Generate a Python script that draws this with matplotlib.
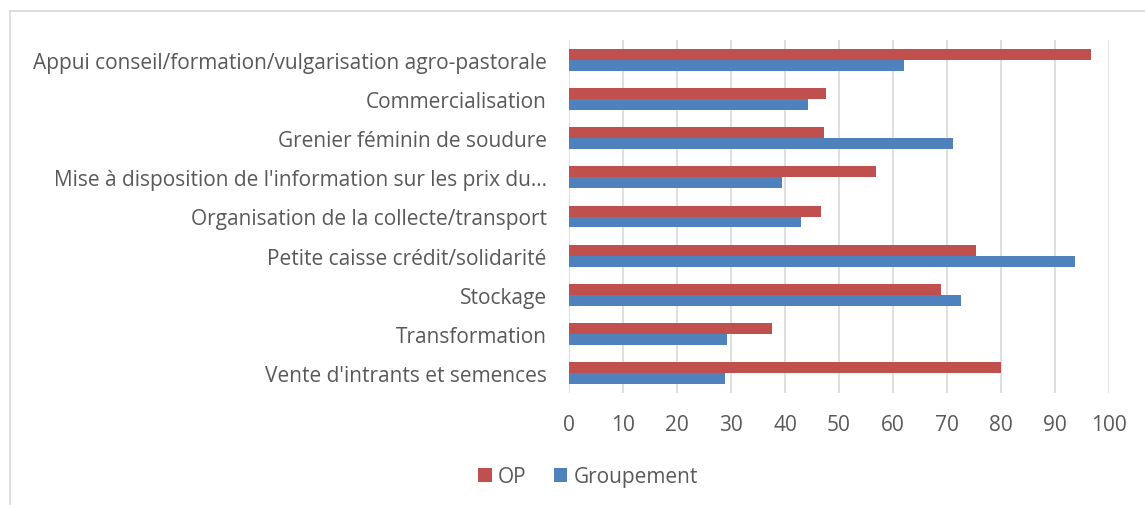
import matplotlib.pyplot as plt
from matplotlib.lines import Line2D
import numpy as np

# Data (top to bottom as shown)
categories = [
    "Appui conseil/formation/vulgarisation agro-pastorale",
    "Commercialisation",
    "Grenier féminin de soudure",
    "Mise à disposition de l'information sur les prix du…",
    "Organisation de la collecte/transport",
    "Petite caisse crédit/solidarité",
    "Stockage",
    "Transformation",
    "Vente d'intrants et semences",
]
op = [96.6, 47.5, 47.3, 56.9, 46.6, 75.4, 68.9, 37.5, 80.0]
groupement = [62.0, 44.2, 71.2, 39.4, 42.9, 93.7, 72.5, 29.2, 28.8]
xticks = [0, 10, 20, 30, 40, 50, 60, 70, 80, 90, 100]

plt.rcParams['font.family'] = ['Open Sans', 'DejaVu Sans']
text_color = '#595959'
red = '#c0504d'
blue = '#4f81bd'

W, H = 1145, 506
fig = plt.figure(figsize=(W / 100, H / 100), dpi=100)
# plot area in pixels: left 569, right 1109, top 41, bottom 394
ax = fig.add_axes([569 / W, 1 - 394 / H, (1109 - 569) / W, (394 - 41) / H])

n = len(categories)
y = np.arange(n)[::-1]
h = 0.28
ax.barh(y + h / 2, op, height=h, color=red, label='OP', zorder=3)
ax.barh(y - h / 2, groupement, height=h, color=blue, label='Groupement', zorder=3)

ax.set_xlim(0, 100)
ax.set_ylim(-0.5, n - 0.5)
ax.set_xticks(xticks)
ax.set_yticks(y)
ax.set_yticklabels(categories)
ax.tick_params(axis='both', length=0, colors=text_color, labelsize=15)
ax.tick_params(axis='x', pad=15)
ax.tick_params(axis='y', pad=16)
ax.grid(axis='x', color='#d9d9d9', linewidth=1.2, zorder=0)
for s in ax.spines.values():
    s.set_visible(False)

handles, labels = ax.get_legend_handles_labels()
fig.legend(handles, labels, loc='center', bbox_to_anchor=(588 / W, 1 - 478 / H),
           ncol=2, frameon=False, fontsize=15, labelcolor=text_color,
           handlelength=0.65, handleheight=0.65, handletextpad=0.3, columnspacing=1.3)

# chart border (only top and left visible)
fig.add_artist(Line2D([10 / W, 1], [1 - 11.5 / H, 1 - 11.5 / H], color='#d9d9d9', lw=1.2,
                      transform=fig.transFigure))
fig.add_artist(Line2D([10 / W, 10 / W], [0, 1 - 11.5 / H], color='#d9d9d9', lw=1.2,
                      transform=fig.transFigure))

fig.savefig('out.png', dpi=100)
